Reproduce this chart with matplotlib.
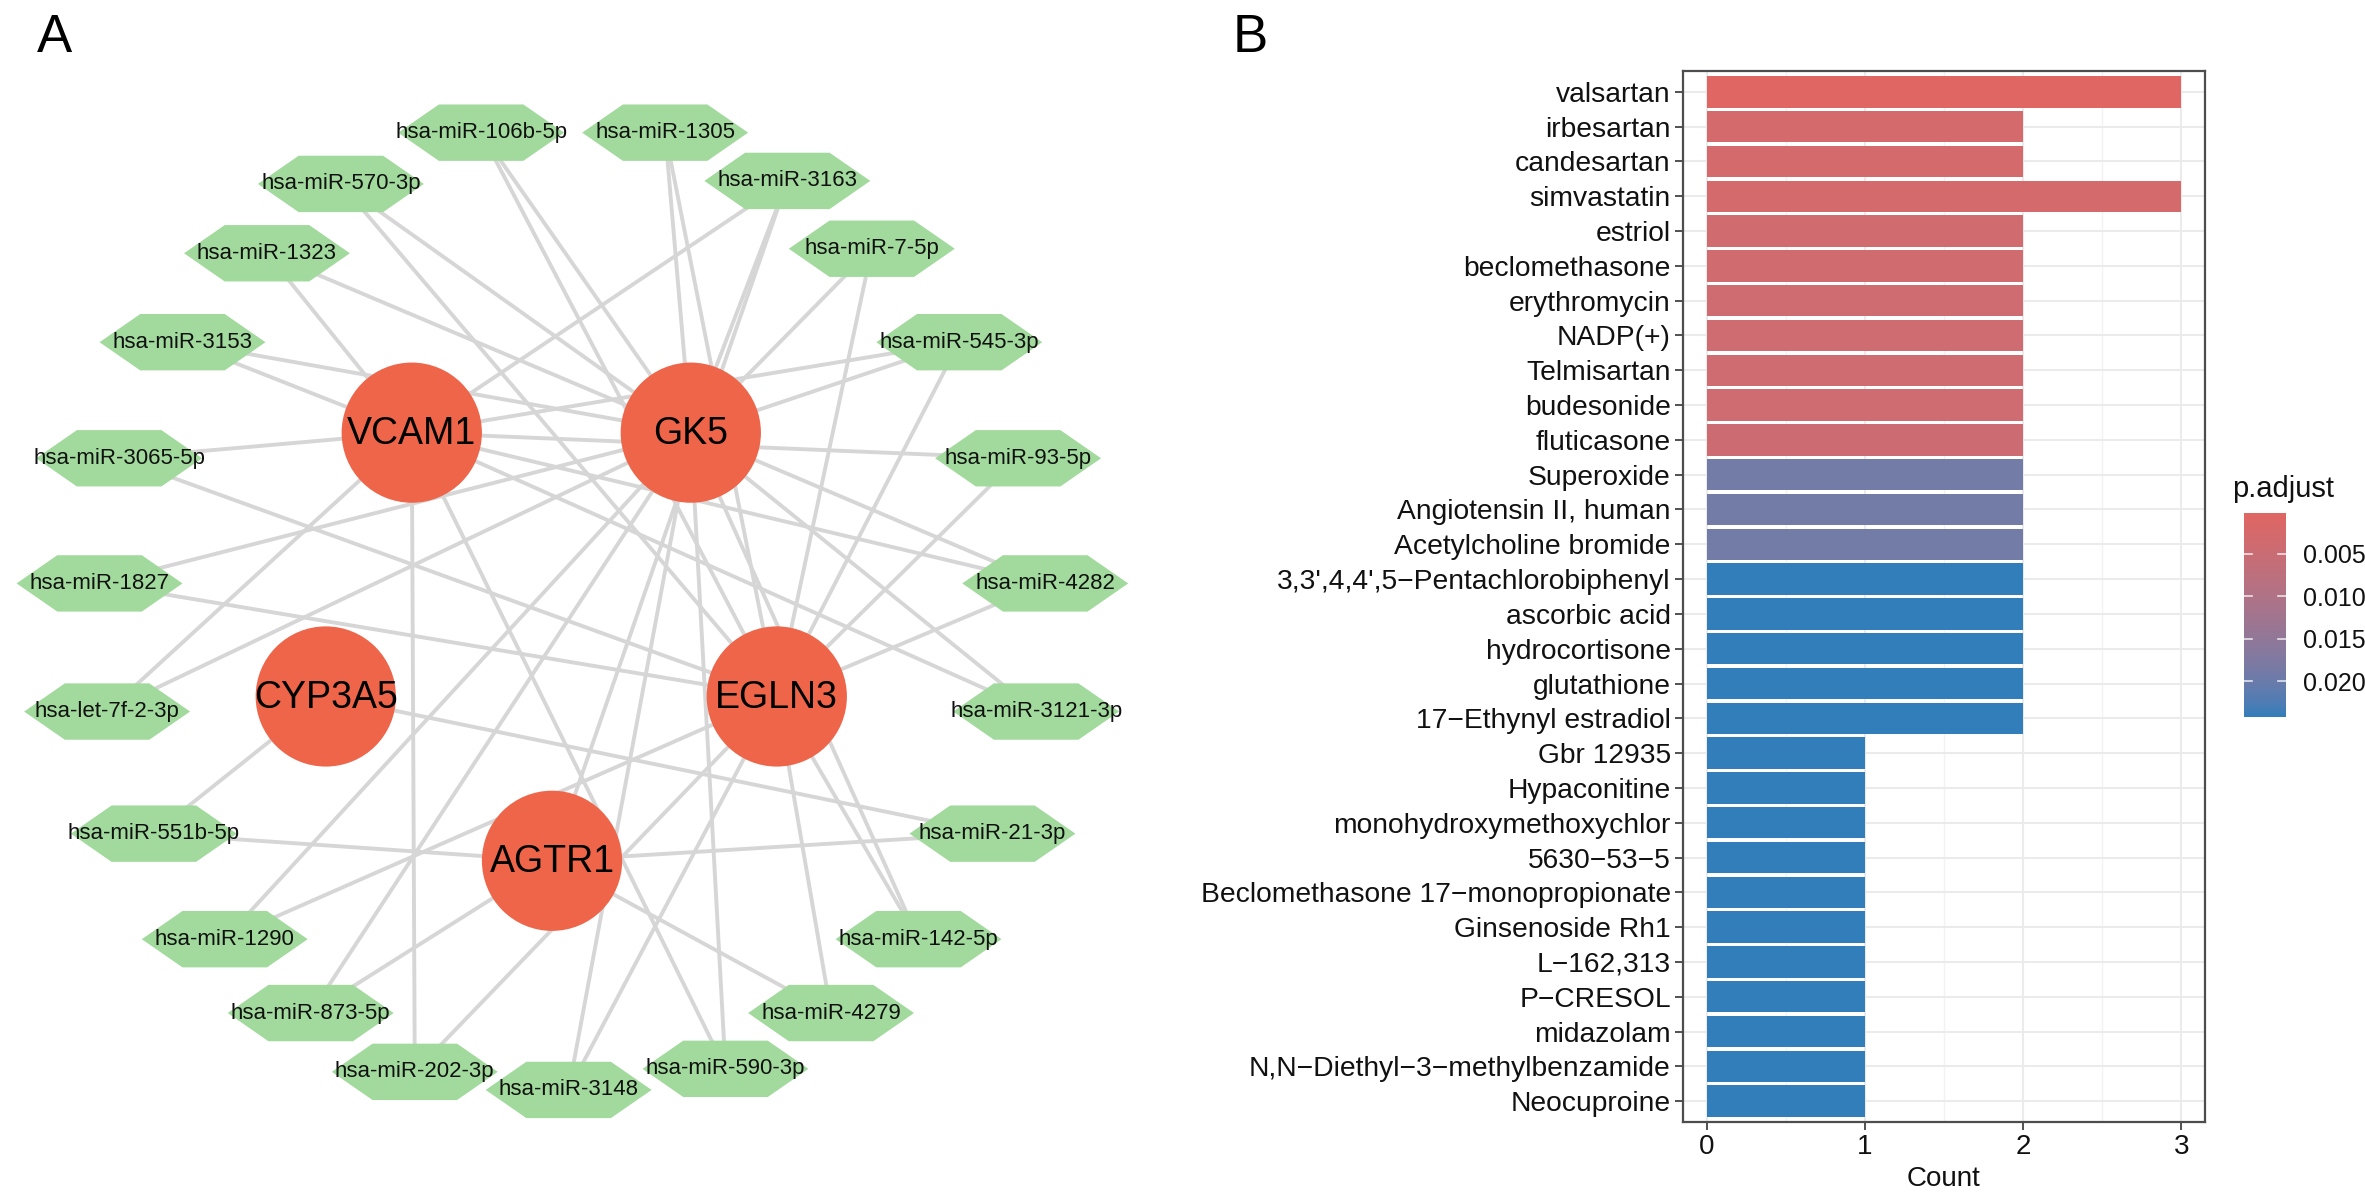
import numpy as np
import matplotlib
matplotlib.use("Agg")
import matplotlib.pyplot as plt
from matplotlib.patches import Circle, Polygon
from matplotlib.colors import ListedColormap, Normalize, to_rgb

plt.rcParams['font.family'] = ['Liberation Sans', 'DejaVu Sans']

# ---------------- Panel A data (miRNA - gene network) ----------------
genes = ["VCAM1", "GK5", "CYP3A5", "EGLN3", "AGTR1"]
mirnas = ["hsa-miR-106b-5p", "hsa-miR-1305", "hsa-miR-570-3p", "hsa-miR-3163",
          "hsa-miR-1323", "hsa-miR-7-5p", "hsa-miR-3153", "hsa-miR-545-3p",
          "hsa-miR-3065-5p", "hsa-miR-93-5p", "hsa-miR-1827", "hsa-miR-4282",
          "hsa-let-7f-2-3p", "hsa-miR-3121-3p", "hsa-miR-551b-5p", "hsa-miR-21-3p",
          "hsa-miR-1290", "hsa-miR-142-5p", "hsa-miR-873-5p", "hsa-miR-4279",
          "hsa-miR-202-3p", "hsa-miR-590-3p", "hsa-miR-3148"]
edges = [
    ("hsa-miR-106b-5p", "GK5"), ("hsa-miR-106b-5p", "EGLN3"),
    ("hsa-miR-1305", "GK5"), ("hsa-miR-1305", "EGLN3"),
    ("hsa-miR-570-3p", "GK5"), ("hsa-miR-570-3p", "EGLN3"),
    ("hsa-miR-3163", "VCAM1"), ("hsa-miR-3163", "GK5"), ("hsa-miR-3163", "AGTR1"),
    ("hsa-miR-1323", "VCAM1"), ("hsa-miR-1323", "GK5"),
    ("hsa-miR-7-5p", "GK5"), ("hsa-miR-7-5p", "EGLN3"),
    ("hsa-miR-3153", "VCAM1"), ("hsa-miR-3153", "GK5"),
    ("hsa-miR-545-3p", "VCAM1"), ("hsa-miR-545-3p", "GK5"), ("hsa-miR-545-3p", "EGLN3"),
    ("hsa-miR-3065-5p", "VCAM1"), ("hsa-miR-3065-5p", "EGLN3"),
    ("hsa-miR-93-5p", "VCAM1"), ("hsa-miR-93-5p", "EGLN3"),
    ("hsa-miR-1827", "GK5"), ("hsa-miR-1827", "EGLN3"),
    ("hsa-miR-4282", "VCAM1"), ("hsa-miR-4282", "GK5"), ("hsa-miR-4282", "EGLN3"),
    ("hsa-let-7f-2-3p", "VCAM1"), ("hsa-let-7f-2-3p", "GK5"),
    ("hsa-miR-3121-3p", "VCAM1"), ("hsa-miR-3121-3p", "GK5"),
    ("hsa-miR-551b-5p", "CYP3A5"), ("hsa-miR-551b-5p", "AGTR1"),
    ("hsa-miR-21-3p", "CYP3A5"), ("hsa-miR-21-3p", "AGTR1"),
    ("hsa-miR-1290", "GK5"), ("hsa-miR-1290", "EGLN3"),
    ("hsa-miR-142-5p", "GK5"), ("hsa-miR-142-5p", "EGLN3"),
    ("hsa-miR-873-5p", "GK5"), ("hsa-miR-873-5p", "AGTR1"),
    ("hsa-miR-4279", "EGLN3"), ("hsa-miR-4279", "AGTR1"),
    ("hsa-miR-202-3p", "VCAM1"), ("hsa-miR-202-3p", "EGLN3"),
    ("hsa-miR-590-3p", "VCAM1"), ("hsa-miR-590-3p", "GK5"),
    ("hsa-miR-3148", "GK5"), ("hsa-miR-3148", "EGLN3"),
]

# layout of the network (canvas units, y downwards)
gene_layout = {"VCAM1": (273, 287), "GK5": (458, 287), "CYP3A5": (216, 462),
               "EGLN3": (515, 462), "AGTR1": (366, 571)}
mirna_layout = {
    "hsa-miR-106b-5p": (319, 88), "hsa-miR-1305": (441, 88),
    "hsa-miR-570-3p": (226, 122), "hsa-miR-3163": (522, 120),
    "hsa-miR-1323": (177, 168), "hsa-miR-7-5p": (578, 165),
    "hsa-miR-3153": (121, 227), "hsa-miR-545-3p": (636, 227),
    "hsa-miR-3065-5p": (79, 304), "hsa-miR-93-5p": (675, 304),
    "hsa-miR-1827": (66, 387), "hsa-miR-4282": (693, 387),
    "hsa-let-7f-2-3p": (71, 472), "hsa-miR-3121-3p": (687, 472),
    "hsa-miR-551b-5p": (102, 553), "hsa-miR-21-3p": (658, 553),
    "hsa-miR-1290": (149, 623), "hsa-miR-142-5p": (609, 623),
    "hsa-miR-873-5p": (206, 672), "hsa-miR-4279": (551, 672),
    "hsa-miR-202-3p": (275, 711), "hsa-miR-590-3p": (481, 709),
    "hsa-miR-3148": (377, 723),
}

# ---------------- Panel B data (drug enrichment) ----------------
drugs = ["valsartan", "irbesartan", "candesartan", "simvastatin", "estriol",
         "beclomethasone", "erythromycin", "NADP(+)", "Telmisartan", "budesonide",
         "fluticasone", "Superoxide", "Angiotensin II, human", "Acetylcholine bromide",
         "3,3',4,4',5-Pentachlorobiphenyl", "ascorbic acid", "hydrocortisone",
         "glutathione", "17-Ethynyl estradiol", "Gbr 12935", "Hypaconitine",
         "monohydroxymethoxychlor", "5630-53-5", "Beclomethasone 17-monopropionate",
         "Ginsenoside Rh1", "L-162,313", "P-CRESOL", "midazolam",
         "N,N-Diethyl-3-methylbenzamide", "Neocuproine"]
counts = [3, 2, 2, 3, 2, 2, 2, 2, 2, 2, 2, 2, 2, 2, 2, 2, 2, 2, 2,
          1, 1, 1, 1, 1, 1, 1, 1, 1, 1, 1]
padj = [0.0002, 0.0026, 0.0026, 0.0026, 0.0036, 0.0036, 0.0040, 0.0040, 0.0040,
        0.0040, 0.0045, 0.0190, 0.0190, 0.0190, 0.0242, 0.0242, 0.0242, 0.0242,
        0.0242, 0.0242, 0.0242, 0.0242, 0.0242, 0.0242, 0.0242, 0.0242, 0.0242,
        0.0242, 0.0242, 0.0242]
cbar_ticks = [0.005, 0.010, 0.015, 0.020]

# ---------------- helpers: Lab interpolated colour scale ----------------
def _srgb_to_lab(rgb):
    rgb = np.asarray(rgb, float)
    lin = np.where(rgb <= 0.04045, rgb / 12.92, ((rgb + 0.055) / 1.055) ** 2.4)
    M = np.array([[0.4124, 0.3576, 0.1805], [0.2126, 0.7152, 0.0722], [0.0193, 0.1192, 0.9505]])
    xyz = M @ lin
    wp = np.array([0.95047, 1.0, 1.08883])
    t = xyz / wp
    f = np.where(t > 0.008856, np.cbrt(t), 7.787 * t + 16 / 116)
    return np.array([116 * f[1] - 16, 500 * (f[0] - f[1]), 200 * (f[1] - f[2])])

def _lab_to_srgb(lab):
    L, a, b = lab
    fy = (L + 16) / 116
    fx = fy + a / 500
    fz = fy - b / 200
    f = np.array([fx, fy, fz])
    t = np.where(f ** 3 > 0.008856, f ** 3, (f - 16 / 116) / 7.787)
    xyz = t * np.array([0.95047, 1.0, 1.08883])
    Minv = np.array([[3.2406, -1.5372, -0.4986], [-0.9689, 1.8758, 0.0415], [0.0557, -0.2040, 1.0570]])
    lin = Minv @ xyz
    lin = np.clip(lin, 0, 1)
    rgb = np.where(lin <= 0.0031308, 12.92 * lin, 1.055 * lin ** (1 / 2.4) - 0.055)
    return np.clip(rgb, 0, 1)

low_c, high_c = "#e06663", "#327eba"
l0, l1 = _srgb_to_lab(to_rgb(low_c)), _srgb_to_lab(to_rgb(high_c))
cmap = ListedColormap([_lab_to_srgb(l0 + (l1 - l0) * s) for s in np.linspace(0, 1, 256)])

# ---------------- figure ----------------
W, H = 2365, 1203
fig = plt.figure(figsize=(W / 100, H / 100), dpi=100)

# Panel A
axA = fig.add_axes([0, 0, 1, 1])
axA.set_xlim(0, 1568)
axA.set_ylim(798, 0)
axA.axis("off")

edge_col = "#D6D6D6"
for m, g in edges:
    x0, y0 = mirna_layout[m]
    x1, y1 = gene_layout[g]
    axA.plot([x0, x1], [y0, y1], color=edge_col, lw=2.8, zorder=1, solid_capstyle="butt")

hw, hh, tw = 55, 18.7, 28
for m in mirnas:
    x, y = mirna_layout[m]
    hexv = [(x - hw, y), (x - tw, y - hh), (x + tw, y - hh), (x + hw, y),
            (x + tw, y + hh), (x - tw, y + hh)]
    axA.add_patch(Polygon(hexv, closed=True, facecolor="#A1DA9C", edgecolor="none", zorder=2))
    axA.text(x, y, m, ha="center", va="center", fontsize=16, color="#111111", zorder=3)

for g in genes:
    x, y = gene_layout[g]
    axA.add_patch(Circle((x, y), 46.5, facecolor="#EE6549", edgecolor="none", zorder=4))
    axA.text(x, y + 1, g, ha="center", va="center", fontsize=27, color="black", zorder=5)

fig.text(54 / W, 1 - 38 / H, "A", fontsize=38, ha="center", va="center")
fig.text(1250 / W, 1 - 38 / H, "B", fontsize=38, ha="center", va="center")

# Panel B
left_px, right_px, top_px, bot_px = 1683, 2205, 71, 1122
axB = fig.add_axes([left_px / W, 1 - bot_px / H, (right_px - left_px) / W, (bot_px - top_px) / H])
n = len(drugs)
ypos = np.arange(n, 0, -1)
norm = Normalize(vmin=min(padj), vmax=max(padj))
bar_cols = [cmap(norm(p)) for p in padj]
axB.set_axisbelow(True)
axB.barh(ypos, counts, height=0.9, color=bar_cols, edgecolor="none", zorder=2)
axB.set_xlim(-0.15, 3.15)
axB.set_ylim(0.4, n + 0.6)
axB.set_yticks(ypos)
axB.set_yticklabels([d.replace("-", "\u2212") for d in drugs], fontsize=20.3, color="#111111")
axB.set_xticks([0, 1, 2, 3])
axB.set_xticklabels(["0", "1", "2", "3"], fontsize=20, color="#111111")
axB.set_xticks([0.5, 1.5, 2.5], minor=True)
axB.tick_params(axis="both", which="major", length=5.8, width=1.2, color="#333333", pad=3)
axB.tick_params(axis="both", which="minor", length=0)
axB.grid(True, which="major", color="#EBEBEB", lw=1.5, zorder=0)
axB.grid(True, which="minor", axis="x", color="#F2F2F2", lw=1.0, zorder=0)
for s in axB.spines.values():
    s.set_color("#4D4D4D")
    s.set_linewidth(1.6)
axB.set_xlabel("Count", fontsize=20, color="#111111", labelpad=4)

# colour bar legend
cb_l, cb_r, cb_t, cb_b = 2244, 2286, 513, 717
axC = fig.add_axes([cb_l / W, 1 - cb_b / H, (cb_r - cb_l) / W, (cb_b - cb_t) / H])
grad = np.linspace(norm.vmin, norm.vmax, 300).reshape(-1, 1)
axC.imshow(grad, cmap=cmap, norm=norm, aspect="auto",
           extent=[0, 1, norm.vmin, norm.vmax], origin="lower")
axC.set_xlim(0, 1)
axC.set_ylim(norm.vmax, norm.vmin)
axC.set_xticks([])
axC.set_yticks(cbar_ticks)
axC.yaxis.tick_right()
axC.set_yticklabels([f"{t:.3f}" for t in cbar_ticks], fontsize=18, color="#111111")
axC.tick_params(axis="y", length=0, pad=12)
for t in cbar_ticks:
    axC.plot([0, 0.2], [t, t], color="white", lw=1.2, alpha=0.8)
    axC.plot([0.8, 1.0], [t, t], color="white", lw=1.2, alpha=0.8)
for s in axC.spines.values():
    s.set_visible(False)
fig.text(2232 / W, 1 - 489 / H, "p.adjust", fontsize=21, ha="left", va="center", color="#111111")

fig.savefig("out.png", dpi=100)
